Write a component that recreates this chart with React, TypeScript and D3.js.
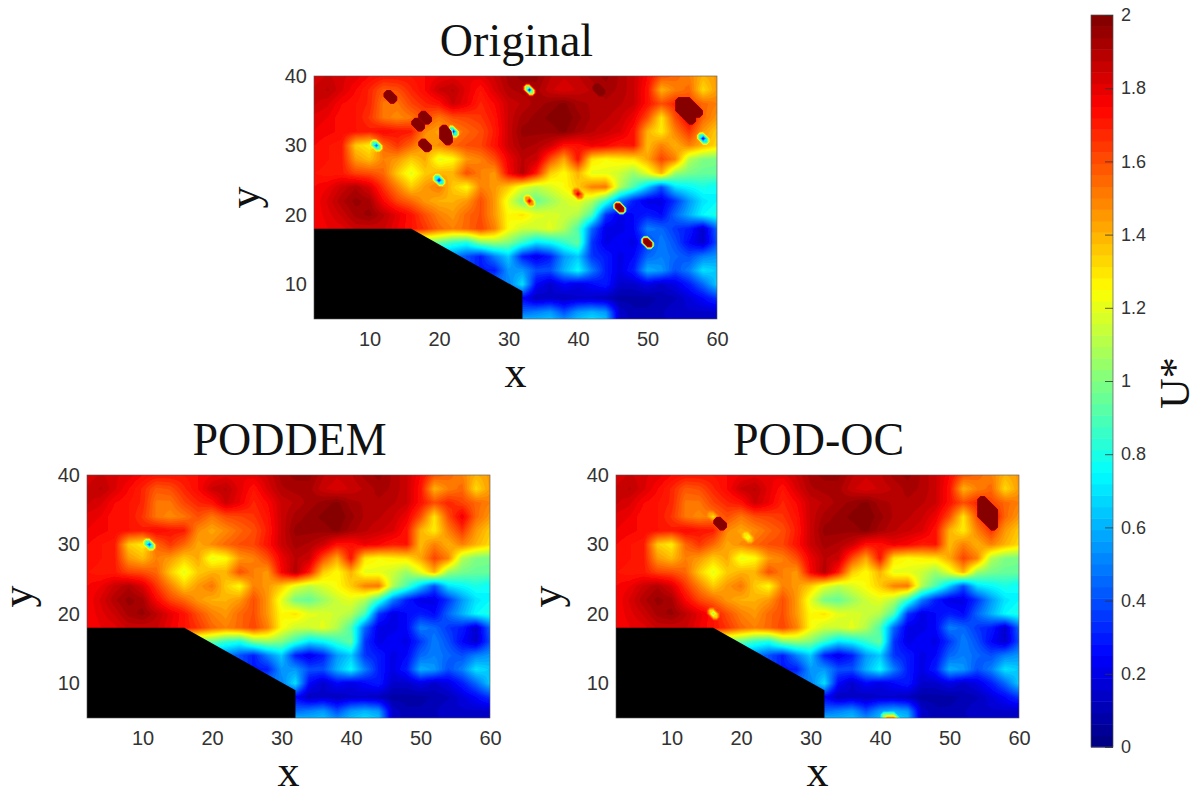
import React, { useEffect, useRef } from 'react';
import * as d3 from 'd3';

// measured on the grid below, x = 2..60 and y = 40..4, both every 2 units
const xGrid = d3.range(2, 61, 2);
const yGrid = d3.range(40, 3, -2);

const row40 = [1.82,1.85,1.82,1.8,1.75,1.72,1.72,1.72,1.75,1.78,1.8,1.78,1.8,1.85,1.92,1.95,1.95,1.88,1.85,1.87,1.92,1.95,1.9,1.85,1.75,1.6,1.55,1.5,1.4,1.45];
const row38 = [1.85,1.88,1.82,1.75,1.68,1.58,1.6,1.68,1.75,1.85,1.88,1.8,1.72,1.82,1.9,1.92,1.92,1.85,1.82,1.85,1.88,1.92,1.9,1.85,1.72,1.4,1.5,1.55,1.32,1.45];
const row36 = [1.85,1.82,1.75,1.72,1.68,1.52,1.52,1.62,1.68,1.72,1.85,1.78,1.68,1.75,1.85,1.88,1.92,1.95,1.98,1.92,1.9,1.9,1.88,1.85,1.72,1.6,1.68,1.62,1.55,1.5];
const row34 = [1.8,1.78,1.72,1.72,1.65,1.52,1.48,1.52,1.6,1.52,1.6,1.62,1.65,1.72,1.85,1.92,1.95,1.98,2.0,1.95,1.9,1.88,1.85,1.78,1.6,1.3,1.6,1.78,1.55,1.45];
const row32 = [1.78,1.76,1.74,1.72,1.7,1.75,1.72,1.7,1.48,1.42,1.48,1.55,1.6,1.7,1.85,1.95,1.95,1.95,1.98,1.92,1.88,1.85,1.82,1.72,1.4,1.28,1.5,1.65,1.45,1.35];
const row30 = [1.75,1.72,1.7,1.35,1.28,1.55,1.65,1.55,1.42,1.48,1.55,1.6,1.62,1.72,1.85,1.92,1.9,1.85,1.72,1.72,1.78,1.75,1.7,1.72,1.38,1.5,1.4,1.5,1.4,1.32];
const row28 = [1.75,1.72,1.7,1.45,1.38,1.5,1.45,1.35,1.42,1.2,1.25,1.45,1.5,1.6,1.78,1.88,1.85,1.6,1.42,1.72,1.3,1.25,1.28,1.3,1.42,1.62,1.5,1.1,1.0,0.98];
const row26 = [1.72,1.7,1.7,1.62,1.6,1.55,1.35,1.2,1.35,1.4,1.4,1.6,1.5,1.45,1.75,1.9,1.7,1.35,1.25,1.4,1.2,1.2,1.15,1.05,1.2,1.4,1.05,0.98,0.95,0.95];
const row24 = [1.75,1.78,1.85,1.9,1.82,1.65,1.5,1.35,1.45,1.52,1.35,1.25,1.5,1.45,1.35,1.2,1.12,1.18,1.25,1.35,1.5,1.52,1.1,0.9,0.65,0.4,0.7,0.75,0.8,0.75];
const row22 = [1.75,1.82,1.9,1.95,1.92,1.75,1.62,1.55,1.45,1.4,1.4,1.45,1.6,1.45,1.2,0.98,0.95,1.05,1.15,1.2,1.1,0.85,0.5,0.3,0.2,0.2,0.35,0.55,0.7,0.75];
const row20 = [1.75,1.8,1.85,1.92,1.95,1.88,1.8,1.72,1.6,1.5,1.45,1.55,1.6,1.45,1.25,1.3,1.2,1.18,1.15,1.1,0.9,0.35,0.2,0.25,0.3,0.25,0.45,0.6,0.75,0.8];
const row18 = [1.75,1.78,1.8,1.85,1.85,1.85,1.78,1.72,1.65,1.55,1.5,1.55,1.62,1.5,1.25,1.15,1.15,1.2,1.1,0.9,0.45,0.2,0.2,0.25,0.5,0.45,0.35,0.3,0.15,0.45];
const row16 = [1,1,1,1,1,1,1,1,1.0,0.95,0.85,0.8,1.0,1.05,1.0,0.85,0.7,0.75,0.85,0.95,0.35,0.2,0.25,0.2,0.35,0.5,0.4,0.25,0.15,0.4];
const row14 = [0.5,0.5,0.5,0.5,0.5,0.5,0.5,0.5,0.5,0.5,0.5,0.4,0.3,0.5,0.65,0.3,0.2,0.3,0.55,0.65,0.35,0.3,0.2,0.25,0.45,0.5,0.45,0.4,0.5,0.55];
const row12 = [0.5,0.5,0.5,0.5,0.5,0.5,0.5,0.5,0.5,0.5,0.5,0.4,0.3,0.3,0.55,0.55,0.4,0.4,0.6,0.75,0.5,0.3,0.2,0.3,0.6,0.55,0.4,0.5,0.7,0.65];
const row10 = [0.5,0.5,0.5,0.5,0.5,0.5,0.5,0.5,0.5,0.5,0.5,0.5,0.5,0.5,0.5,0.7,0.25,0.15,0.25,0.2,0.25,0.3,0.15,0.15,0.2,0.15,0.2,0.3,0.45,0.65];
const row8 = [0.3,0.3,0.3,0.3,0.3,0.3,0.3,0.3,0.3,0.3,0.3,0.3,0.3,0.3,0.3,0.25,0.12,0.15,0.12,0.15,0.15,0.12,0.08,0.08,0.08,0.1,0.12,0.18,0.25,0.35];
const row6 = [0.4,0.4,0.4,0.4,0.4,0.4,0.4,0.4,0.4,0.4,0.4,0.4,0.4,0.4,0.4,0.45,0.5,0.55,0.4,0.55,0.6,0.55,0.15,0.1,0.1,0.12,0.15,0.15,0.15,0.15];
const row4 = [0.7,0.7,0.7,0.7,0.7,0.7,0.7,0.7,0.7,0.7,0.7,0.7,0.7,0.7,0.7,0.75,0.7,0.7,0.65,0.7,0.78,0.7,0.15,0.12,0.12,0.12,0.12,0.12,0.12,0.12];
const baseRows = [row40,row38,row36,row34,row32,row30,row28,row26,row24,row22,row20,row18,row16,row14,row12,row10,row8,row6,row4];

// single-point outliers per panel: [x, y, U*]
const originalSpots = [
  [13,37,6],[18,34,6],[17,33,6],[21,32,6],[21,31,6],[18,30,6],[22,32,0.1],[11,30,0.35],[20,25,0.1],
  [33,38,0.1],[58,31,0.1],[33,22,1.85],[40,23,1.85],[46,21,3.6],[50,16,3.6],[43,38,2.4],
  [55,36,6],[56,36,5],[55,35,6],[56,35,6],[57,35,6],[56,34,6],
];
const poddemSpots = [[11,30,0.3]];
const podocSpots = [
  [17,33,6],[16,34,1.3],[21,31,1.15],[16,20,1.0],[41,5,1.5],[42,5,1.5],
  [55,36,6],[55,35,6],[56,35,6],[56,34,6],[55,34,6],[56,33,6],
];

const maskX = [2, 16, 32, 32, 2];
const maskY = [18, 18, 9, 5, 5];

const xTicks = [10, 20, 30, 40, 50, 60];
const yTicks = [10, 20, 30, 40];
const barTicks = [0, 0.2, 0.4, 0.6, 0.8, 1, 1.2, 1.4, 1.6, 1.8, 2];

const LEVELS = 64;
const thresholds = d3.range(LEVELS).map(i => (i * 2) / LEVELS);
const jet = d3.scaleLinear<string>()
  .domain([0, 0.25, 0.75, 1.25, 1.75, 2])
  .range(['#00007f', '#0000ff', '#00ffff', '#ffff00', '#ff0000', '#7f0000']);
const levelColor = (i: number) => jet((i + 0.5) * 2 / LEVELS);

const FINE = 0.5;

function baseAt(x: number, y: number) {
  const fx = Math.min((x - 2) / 2, xGrid.length - 1.001);
  const fy = Math.min((40 - y) / 2, yGrid.length - 1.001);
  const i = Math.floor(fx), j = Math.floor(fy);
  const a = fx - i, b = fy - j;
  return (baseRows[j][i] * (1 - a) + baseRows[j][i + 1] * a) * (1 - b)
    + (baseRows[j + 1][i] * (1 - a) + baseRows[j + 1][i + 1] * a) * b;
}

function buildField(spots: number[][]) {
  const xs = d3.range(2, 60 + FINE, FINE);
  const ys = d3.range(40, 4 - FINE, -FINE);
  const values: number[] = [];
  ys.forEach(y => xs.forEach(x => {
    let v = baseAt(x, y);
    spots.forEach(([sx, sy, su]) => {
      const dx = x - sx, dy = y - sy;
      const k = 1 - Math.max(Math.abs(dx), Math.abs(dy), Math.abs(dx + dy));
      if (k > 0) v += k * (su - baseAt(sx, sy));
    });
    values.push(v);
  }));
  return { values, nx: xs.length, ny: ys.length };
}

type PanelProps = { id: string; title: string; left: number; top: number; spots: number[][] };

const W = 403;
const H = 243;
const serif = '"Liberation Serif", serif';
const sans = '"Liberation Sans", sans-serif';

const Panel = ({ id, title, left, top, spots }: PanelProps) => {
  const ref = useRef<SVGGElement>(null);

  useEffect(() => {
    const g = d3.select(ref.current);
    g.selectAll('*').remove();

    const x = d3.scaleLinear().domain([2, 60]).range([0, W]);
    const y = d3.scaleLinear().domain([5, 40]).range([H, 0]);

    const { values, nx, ny } = buildField(spots);
    const contours = d3.contours().size([nx, ny]).smooth(true).thresholds(thresholds)(values);
    const project = d3.geoTransform({
      point(px, py) {
        this.stream.point(x(2 + (px - 0.5) * FINE), y(40 - (py - 0.5) * FINE));
      },
    });
    const path = d3.geoPath(project);

    g.append('clipPath').attr('id', id).append('rect').attr('width', W).attr('height', H);
    const field = g.append('g').attr('clip-path', `url(#${id})`).append('g').attr('filter', 'url(#soft)');
    field.selectAll('path')
      .data(contours)
      .join('path')
      .attr('d', d => path(d as any))
      .attr('fill', (d, i) => levelColor(i));

    const mask = d3.line<number>().x((d, i) => x(maskX[i])).y((d, i) => y(maskY[i]));
    g.append('path').attr('d', mask(maskX) + 'Z').attr('fill', '#000');

    g.append('rect').attr('width', W).attr('height', H).attr('fill', 'none').attr('stroke', '#555').attr('stroke-width', 0.6);

    const xAxis = g.append('g').attr('transform', `translate(0,${H})`)
      .call(d3.axisBottom(x).tickValues(xTicks).tickSize(0).tickPadding(13));
    const yAxis = g.append('g')
      .call(d3.axisLeft(y).tickValues(yTicks).tickSize(0).tickPadding(7));
    [xAxis, yAxis].forEach(a => {
      a.select('.domain').remove();
      a.selectAll('text').attr('font-family', sans).attr('font-size', 20).attr('fill', '#333');
    });
  }, []);

  return (
    <g transform={`translate(${left},${top})`}>
      <g ref={ref} />
      <text x={W / 2 + 1} y={-20} textAnchor="middle" fontFamily={serif} fontSize={46} fill="#111">{title}</text>
      <text x={W / 2} y={68} textAnchor="middle" fontFamily={serif} fontSize={44} fill="#111"
        transform={`translate(0,${H})`}>x</text>
      <text textAnchor="middle" fontFamily={serif} fontSize={44} fill="#111"
        transform={`translate(-55,${H / 2}) rotate(-90)`}>y</text>
    </g>
  );
};

const ColorBar = () => {
  const ref = useRef<SVGGElement>(null);

  useEffect(() => {
    const g = d3.select(ref.current);
    g.selectAll('*').remove();
    const barW = 22;
    const c = d3.scaleLinear().domain([0, 2]).range([732, 0]);

    g.selectAll('rect.level')
      .data(thresholds)
      .join('rect')
      .attr('class', 'level')
      .attr('x', 0)
      .attr('width', barW)
      .attr('y', d => c(d + 2 / LEVELS))
      .attr('height', d => c(d) - c(d + 2 / LEVELS) + 0.5)
      .attr('fill', (d, i) => levelColor(i));

    g.append('rect').attr('width', barW).attr('height', 732).attr('fill', 'none').attr('stroke', '#555').attr('stroke-width', 0.7);

    const axis = g.append('g').attr('transform', `translate(${barW},0)`)
      .call(d3.axisRight(c).tickValues(barTicks).tickFormat(d => String(d)).tickSize(-8).tickPadding(8));
    axis.select('.domain').remove();
    axis.selectAll('line').attr('stroke', '#333').attr('stroke-width', 0.8);
    axis.selectAll('text').attr('font-family', sans).attr('font-size', 18).attr('fill', '#333');
  }, []);

  return <g ref={ref} transform="translate(1091,15)" />;
};

export default function App() {
  return (
    <svg width={1195} height={791} style={{ position: 'absolute', left: 0, top: 0, background: '#fff' }}>
      <defs>
        <filter id="soft" x="-2%" y="-2%" width="104%" height="104%">
          <feGaussianBlur stdDeviation="0.5" />
        </filter>
      </defs>
      <Panel id="clip-original" title="Original" left={314} top={76} spots={originalSpots} />
      <Panel id="clip-poddem" title="PODDEM" left={87} top={475} spots={poddemSpots} />
      <Panel id="clip-podoc" title="POD-OC" left={616} top={475} spots={podocSpots} />
      <ColorBar />
      <text textAnchor="middle" fontFamily={serif} fontSize={42} fill="#111"
        transform="translate(1189,383) rotate(-90)">U*</text>
    </svg>
  );
}
